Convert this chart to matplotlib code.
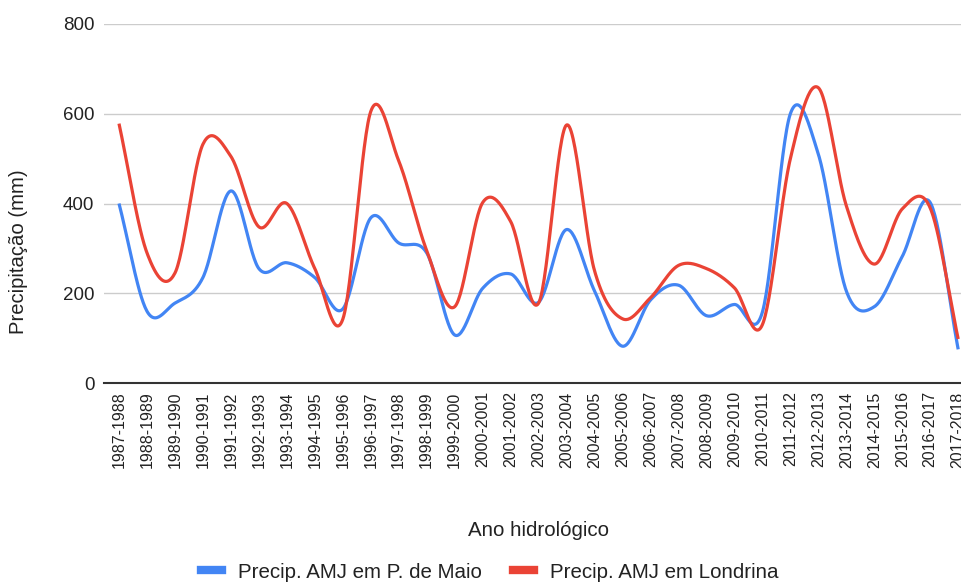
import numpy as np
import matplotlib.pyplot as plt
from matplotlib.lines import Line2D

plt.rcParams['font.family'] = ['Liberation Sans', 'DejaVu Sans']

anos = [f"{a}-{a + 1}" for a in range(1987, 2018)]

# precipitação abr-mai-jun (mm)
prec_pmaio = [400, 160, 178, 235, 428, 255, 268, 235, 165, 368,
              312, 290, 107, 211, 243, 180, 342, 205, 82, 185,
              218, 150, 175, 158, 600, 510, 205, 170, 282, 402, 75]
prec_londrina = [578, 290, 245, 532, 505, 348, 400, 255, 142, 605,
                 495, 295, 170, 402, 360, 178, 575, 250, 143, 190,
                 262, 255, 212, 130, 500, 658, 395, 265, 388, 390, 98]

AZUL = '#4285F4'
VERMELHO = '#EA4335'


def suaviza(y, n=30):
    """Catmull-Rom entre os pontos, para a curva suave."""
    y = np.asarray(y, dtype=float)
    m = np.zeros_like(y)
    m[1:-1] = (y[2:] - y[:-2]) / 2
    m[0] = y[1] - y[0]
    m[-1] = y[-1] - y[-2]
    xs, ys = [], []
    t = np.linspace(0, 1, n, endpoint=False)
    h00 = 2 * t**3 - 3 * t**2 + 1
    h10 = t**3 - 2 * t**2 + t
    h01 = -2 * t**3 + 3 * t**2
    h11 = t**3 - t**2
    for i in range(len(y) - 1):
        xs.append(i + t)
        ys.append(h00 * y[i] + h10 * m[i] + h01 * y[i + 1] + h11 * m[i + 1])
    xs.append([len(y) - 1])
    ys.append([y[-1]])
    return np.concatenate(xs), np.concatenate(ys)


fig = plt.figure(figsize=(9.61, 5.83), dpi=100)
ax = fig.add_axes([104 / 961, 200 / 583, 857 / 961, 359 / 583])

for serie, cor in [(prec_pmaio, AZUL), (prec_londrina, VERMELHO)]:
    xs, ys = suaviza(serie)
    ax.plot(xs, ys, color=cor, lw=2.3, solid_capstyle='butt', zorder=3)

ax.set_xlim(-0.536, 30.1)
ax.set_ylim(0, 800)
ax.set_yticks([0, 200, 400, 600, 800])
ax.set_xticks(range(len(anos)))
ax.set_xticklabels(anos, rotation=90, fontsize=11.5, color='#222222')
ax.tick_params(axis='y', length=0, pad=7, labelsize=13.5, labelcolor='#222222')
ax.tick_params(axis='x', length=0, pad=6)
for s in ['top', 'right', 'left']:
    ax.spines[s].set_visible(False)
ax.spines['bottom'].set_color('#333333')
ax.spines['bottom'].set_linewidth(1.5)
ax.spines['bottom'].set_zorder(4)
ax.yaxis.grid(True, color='#cccccc', lw=1)
ax.set_axisbelow(True)

fig.text(19 / 961, 1 - 252 / 583, 'Precipitação (mm)', rotation=90,
         ha='center', va='center', fontsize=14.6, color='#222222')
fig.text(538 / 961, 1 - 530 / 583, 'Ano hidrológico',
         ha='center', va='center', fontsize=14.8, color='#222222')

handles = [Line2D([], [], color=AZUL, lw=6),
           Line2D([], [], color=VERMELHO, lw=6)]
fig.legend(handles, ['Precip. AMJ em P. de Maio', 'Precip. AMJ em Londrina'],
           loc='center', bbox_to_anchor=(490 / 961, 1 - 572 / 583), ncol=2,
           frameon=False, fontsize=14.8, handlelength=1.0, handletextpad=0.8,
           columnspacing=1.5, labelcolor='#222222')

fig.savefig('out.png', dpi=100)
